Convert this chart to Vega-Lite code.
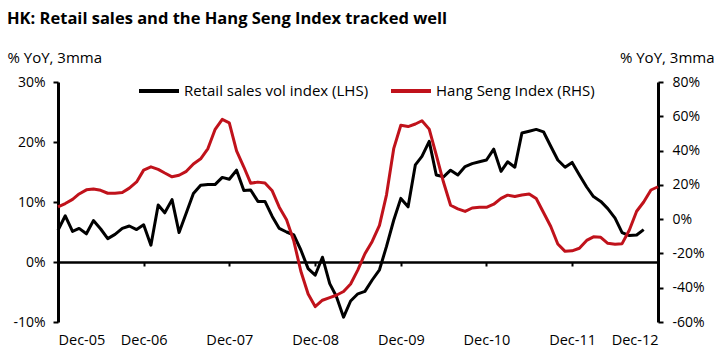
{
  "$schema": "https://vega.github.io/schema/vega-lite/v6.json",
  "width": 600,
  "height": 240,
  "autosize": {"type": "none"},
  "padding": {"left": 58, "top": 82, "right": 62, "bottom": 34},
  "background": "white",
  "config": {
    "font": "Open Sans",
    "view": {"stroke": null},
    "axis": {"labelColor": "#000", "titleColor": "#000", "labelFontSize": 14, "grid": false}
  },
  "title": {
    "text": "HK: Retail sales and the Hang Seng Index tracked well",
    "anchor": "start",
    "frame": "group",
    "dx": -51,
    "fontSize": 16.5,
    "fontWeight": "bold",
    "color": "#000",
    "offset": 23
  },
  "data": {"values": [
    {"date":"2005-12-01","retail":5.3,"hsi":7.2},
    {"date":"2006-01-01","retail":7.7,"hsi":9.1},
    {"date":"2006-02-01","retail":5.1,"hsi":11.5},
    {"date":"2006-03-01","retail":5.6,"hsi":14.7},
    {"date":"2006-04-01","retail":4.7,"hsi":17.1},
    {"date":"2006-05-01","retail":6.9,"hsi":17.6},
    {"date":"2006-06-01","retail":5.5,"hsi":16.8},
    {"date":"2006-07-01","retail":3.9,"hsi":15.1},
    {"date":"2006-08-01","retail":4.6,"hsi":15.1},
    {"date":"2006-09-01","retail":5.6,"hsi":15.5},
    {"date":"2006-10-01","retail":6.0,"hsi":18.1},
    {"date":"2006-11-01","retail":5.4,"hsi":21.7},
    {"date":"2006-12-01","retail":6.2,"hsi":28.6},
    {"date":"2007-01-01","retail":2.8,"hsi":30.5},
    {"date":"2007-02-01","retail":9.5,"hsi":29.0},
    {"date":"2007-03-01","retail":8.2,"hsi":26.9},
    {"date":"2007-04-01","retail":10.4,"hsi":24.7},
    {"date":"2007-05-01","retail":4.9,"hsi":25.6},
    {"date":"2007-06-01","retail":8.2,"hsi":27.9},
    {"date":"2007-07-01","retail":11.4,"hsi":32.2},
    {"date":"2007-08-01","retail":12.8,"hsi":35.2},
    {"date":"2007-09-01","retail":12.9,"hsi":41.2},
    {"date":"2007-10-01","retail":12.9,"hsi":52.2},
    {"date":"2007-11-01","retail":14.1,"hsi":58.2},
    {"date":"2007-12-01","retail":13.8,"hsi":56.2},
    {"date":"2008-01-01","retail":15.3,"hsi":39.8},
    {"date":"2008-02-01","retail":11.9,"hsi":30.4},
    {"date":"2008-03-01","retail":12.0,"hsi":21.0},
    {"date":"2008-04-01","retail":10.1,"hsi":21.6},
    {"date":"2008-05-01","retail":10.1,"hsi":21.1},
    {"date":"2008-06-01","retail":7.6,"hsi":16.5},
    {"date":"2008-07-01","retail":5.6,"hsi":7.0},
    {"date":"2008-08-01","retail":5.0,"hsi":-0.4},
    {"date":"2008-09-01","retail":4.5,"hsi":-12.8},
    {"date":"2008-10-01","retail":2.0,"hsi":-30.4},
    {"date":"2008-11-01","retail":-1.1,"hsi":-43.7},
    {"date":"2008-12-01","retail":-2.2,"hsi":-51.0},
    {"date":"2009-01-01","retail":0.8,"hsi":-47.3},
    {"date":"2009-02-01","retail":-3.6,"hsi":-45.8},
    {"date":"2009-03-01","retail":-5.7,"hsi":-44.4},
    {"date":"2009-04-01","retail":-9.2,"hsi":-42.2},
    {"date":"2009-05-01","retail":-6.5,"hsi":-37.8},
    {"date":"2009-06-01","retail":-5.3,"hsi":-29.6},
    {"date":"2009-07-01","retail":-4.9,"hsi":-20.2},
    {"date":"2009-08-01","retail":-3.0,"hsi":-13.0},
    {"date":"2009-09-01","retail":-1.3,"hsi":-3.6},
    {"date":"2009-10-01","retail":2.6,"hsi":14.2},
    {"date":"2009-11-01","retail":7.0,"hsi":41.3},
    {"date":"2009-12-01","retail":10.6,"hsi":54.8},
    {"date":"2010-01-01","retail":9.2,"hsi":54.0},
    {"date":"2010-02-01","retail":16.2,"hsi":55.5},
    {"date":"2010-03-01","retail":17.6,"hsi":57.4},
    {"date":"2010-04-01","retail":20.1,"hsi":52.5},
    {"date":"2010-05-01","retail":14.5,"hsi":37.5},
    {"date":"2010-06-01","retail":14.2,"hsi":21.5},
    {"date":"2010-07-01","retail":15.3,"hsi":8.1},
    {"date":"2010-08-01","retail":14.5,"hsi":6.0},
    {"date":"2010-09-01","retail":15.9,"hsi":4.5},
    {"date":"2010-10-01","retail":16.4,"hsi":6.5},
    {"date":"2010-11-01","retail":16.7,"hsi":6.9},
    {"date":"2010-12-01","retail":17.0,"hsi":6.9},
    {"date":"2011-01-01","retail":18.8,"hsi":8.7},
    {"date":"2011-02-01","retail":15.1,"hsi":12.1},
    {"date":"2011-03-01","retail":16.7,"hsi":14.0},
    {"date":"2011-04-01","retail":15.8,"hsi":13.2},
    {"date":"2011-05-01","retail":21.5,"hsi":14.1},
    {"date":"2011-06-01","retail":21.8,"hsi":14.7},
    {"date":"2011-07-01","retail":22.1,"hsi":12.0},
    {"date":"2011-08-01","retail":21.7,"hsi":3.9},
    {"date":"2011-09-01","retail":19.3,"hsi":-4.3},
    {"date":"2011-10-01","retail":17.0,"hsi":-14.5},
    {"date":"2011-11-01","retail":15.8,"hsi":-18.8},
    {"date":"2011-12-01","retail":16.6,"hsi":-18.5},
    {"date":"2012-01-01","retail":14.5,"hsi":-17.0},
    {"date":"2012-02-01","retail":12.5,"hsi":-12.4},
    {"date":"2012-03-01","retail":10.9,"hsi":-10.3},
    {"date":"2012-04-01","retail":10.1,"hsi":-10.6},
    {"date":"2012-05-01","retail":8.9,"hsi":-14.1},
    {"date":"2012-06-01","retail":7.3,"hsi":-14.6},
    {"date":"2012-07-01","retail":4.9,"hsi":-14.3},
    {"date":"2012-08-01","retail":4.4,"hsi":-6.3},
    {"date":"2012-09-01","retail":4.5,"hsi":4.6},
    {"date":"2012-10-01","retail":5.4,"hsi":10.0},
    {"date":"2012-11-01","retail":null,"hsi":17.0},
    {"date":"2012-12-01","retail":null,"hsi":18.9}
  ]},
  "layer": [
    {
      "mark": {"type": "line", "strokeWidth": 3, "strokeJoin": "round"},
      "encoding": {
        "x": {
          "field": "date", "type": "temporal",
          "scale": {"type": "utc", "domain": [{"year":2005,"month":12,"date":1,"utc":true},{"year":2012,"month":12,"date":1,"utc":true}]},
          "axis": {
            "orient": "bottom",
            "title": null,
            "domain": false,
            "ticks": false,
            "labelPadding": 11,
            "labelDx": 3,
            "labelFontSize": 14.5,
            "labelExpr": "utcFormat(datum.value, '%b-%y')",
            "values": [
              {"year":2005,"month":12,"date":1,"utc":true},
              {"year":2006,"month":12,"date":1,"utc":true},
              {"year":2007,"month":12,"date":1,"utc":true},
              {"year":2008,"month":12,"date":1,"utc":true},
              {"year":2009,"month":12,"date":1,"utc":true},
              {"year":2010,"month":12,"date":1,"utc":true},
              {"year":2011,"month":12,"date":1,"utc":true},
              {"year":2012,"month":12,"date":1,"utc":true}
            ]
          }
        },
        "y": {
          "field": "retail", "type": "quantitative",
          "scale": {"domain": [-10, 30], "nice": false, "zero": false},
          "axis": {
            "orient": "left",
            "values": [-10, 0, 10, 20, 30],
            "labelExpr": "datum.value + '%'",
            "title": "% YoY, 3mma",
            "titleAngle": 0,
            "titleAlign": "left",
            "titleBaseline": "middle",
            "titleX": -51,
            "titleY": -25,
            "titleFontSize": 15,
            "titleFontWeight": "normal",
            "domainColor": "#000",
            "domainWidth": 3,
            "tickColor": "#000",
            "tickWidth": 2,
            "tickSize": 5,
            "labelPadding": 8
          }
        },
        "color": {
          "datum": "Retail sales vol index (LHS)",
          "type": "nominal",
          "scale": {"domain": ["Retail sales vol index (LHS)", "Hang Seng Index (RHS)"], "range": ["#000000", "#C0121B"]},
          "legend": {
            "orient": "none",
            "legendX": 79,
            "legendY": -13,
            "direction": "horizontal",
            "title": null,
            "symbolType": "stroke",
            "symbolSize": 1600,
            "symbolStrokeWidth": 4,
            "labelFontSize": 15,
            "labelLimit": 400,
            "labelColor": "#000",
            "labelOffset": 3,
            "columnPadding": 14
          }
        }
      }
    },
    {
      "mark": {"type": "line", "strokeWidth": 3, "strokeJoin": "round"},
      "encoding": {
        "x": {
          "field": "date", "type": "temporal",
          "axis": {
            "orient": "bottom",
            "offset": -60,
            "title": null,
            "labels": false,
            "domain": true,
            "domainColor": "#000",
            "domainWidth": 2.5,
            "ticks": true,
            "tickColor": "#000",
            "tickWidth": 2,
            "tickSize": 4,
            "values": [
              {"year":2005,"month":12,"date":1,"utc":true},
              {"year":2006,"month":12,"date":1,"utc":true},
              {"year":2007,"month":12,"date":1,"utc":true},
              {"year":2008,"month":12,"date":1,"utc":true},
              {"year":2009,"month":12,"date":1,"utc":true},
              {"year":2010,"month":12,"date":1,"utc":true},
              {"year":2011,"month":12,"date":1,"utc":true},
              {"year":2012,"month":12,"date":1,"utc":true}
            ]
          }
        },
        "y": {
          "field": "hsi", "type": "quantitative",
          "scale": {"domain": [-60, 80], "nice": false, "zero": false},
          "axis": {
            "orient": "right",
            "values": [-60, -40, -20, 0, 20, 40, 60, 80],
            "labelExpr": "datum.value + '%'",
            "title": "% YoY, 3mma",
            "titleAngle": 0,
            "titleAlign": "right",
            "titleBaseline": "middle",
            "titleX": 56,
            "titleY": -25,
            "titleFontSize": 15,
            "titleFontWeight": "normal",
            "domainColor": "#000",
            "domainWidth": 3,
            "tickColor": "#000",
            "tickWidth": 2,
            "tickSize": 5,
            "labelPadding": 9
          }
        },
        "color": {"datum": "Hang Seng Index (RHS)", "type": "nominal"}
      }
    }
  ],
  "resolve": {"scale": {"y": "independent"}, "axis": {"x": "independent", "y": "independent"}}
}
